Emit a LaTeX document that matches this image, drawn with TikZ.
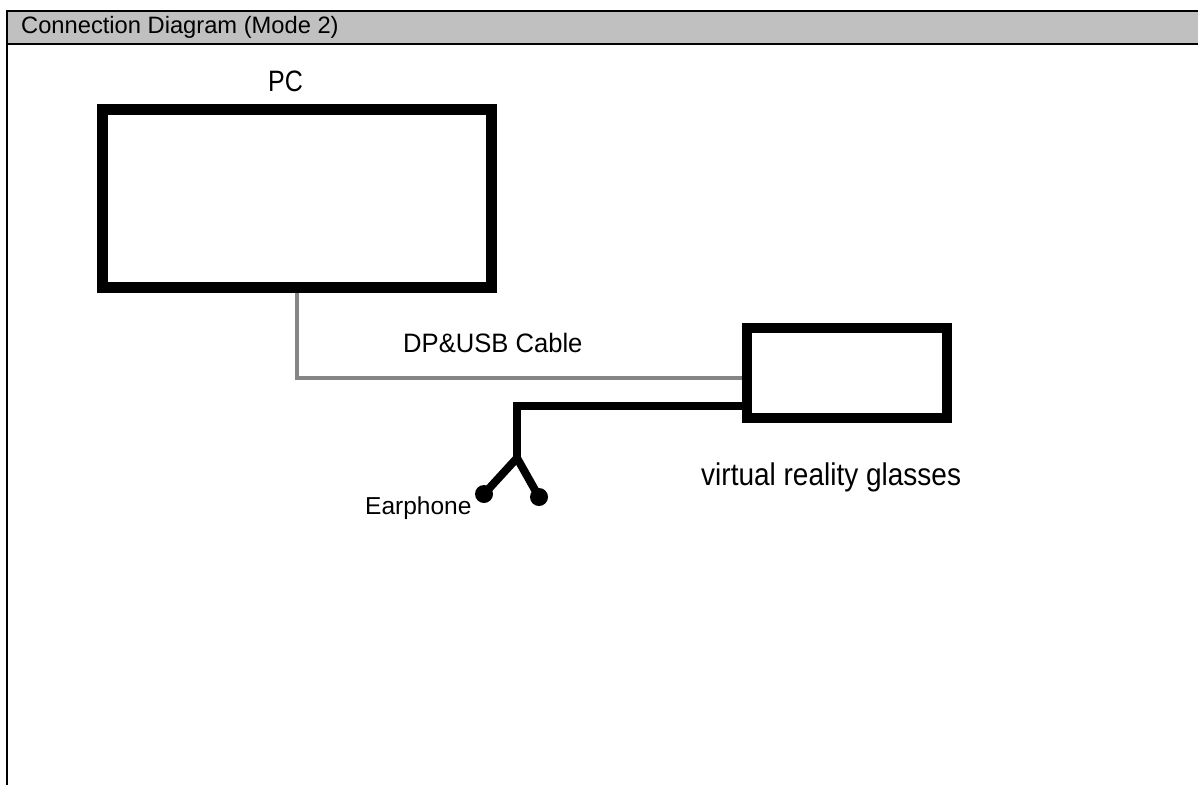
\documentclass[tikz,border=0pt]{standalone}
\usepackage{fontspec}
\setmainfont{Liberation Sans}
\definecolor{hdrgray}{HTML}{C0C0C0}
\definecolor{cablegray}{HTML}{858585}
\tikzset{
  frameline/.style={line width=2.4pt, black},
  devbox/.style={draw=black, fill=white, rectangle, inner sep=0pt},
  graycable/.style={draw=cablegray, line width=4pt},
  blackcable/.style={draw=black, line width=8pt},
  earbud/.style={circle, fill=black, inner sep=0pt, minimum size=18pt},
  lbl/.style={inner sep=0pt, anchor=base west, text=black},
}
\begin{document}
\begin{tikzpicture}[x=1pt, y=-1pt]
\useasboundingbox (0,0) rectangle (1198,785);
% header
\fill[hdrgray] (6.7,11) rectangle (1198,44);
\draw[frameline] (1198,11) -- (6.7,11) -- (6.7,785);
\draw[frameline] (6.7,44) -- (1198,44);
\node[lbl] (title) at (21,33) {\fontsize{23.7}{28}\selectfont Connection Diagram (Mode 2)};
% devices
\node[devbox, line width=11pt, minimum width=389pt, minimum height=178pt] (pc) at (297,198) {};
\node[devbox, line width=10pt, minimum width=200pt, minimum height=90pt] (vr) at (847,373) {};
\coordinate (split) at (517,458);
\node[earbud] (eL) at (484,494) {};
\node[earbud] (eR) at (539,497) {};
% cables
\draw[graycable] (pc.south) |- ([yshift=-5pt]vr.west);
\draw[blackcable] ([yshift=-33pt]vr.west) -| (split);
\draw[blackcable, line cap=round] (split) -- (eL.center);
\draw[blackcable, line cap=round] (split) -- (eR.center);
% redraw box borders on top of cable ends
\node[devbox, line width=11pt, minimum width=389pt, minimum height=178pt, fill=none] at (297,198) {};
\node[devbox, line width=10pt, minimum width=200pt, minimum height=90pt, fill=none] at (847,373) {};
% labels
\node[lbl] (pclbl) at (268,91) {\scalebox{1}[1.18]{\fontsize{25}{30}\selectfont PC}};
\node[lbl] (cablelbl) at (403,352) {\scalebox{1}[1.04]{\fontsize{25.6}{30}\selectfont DP\&USB Cable}};
\node[lbl] (vrlbl) at (701,485) {\scalebox{1}[1.12]{\fontsize{28}{33}\selectfont virtual reality glasses}};
\node[lbl] (earlbl) at (365,514) {\fontsize{24.5}{29}\selectfont Earphone};
\end{tikzpicture}
\end{document}
